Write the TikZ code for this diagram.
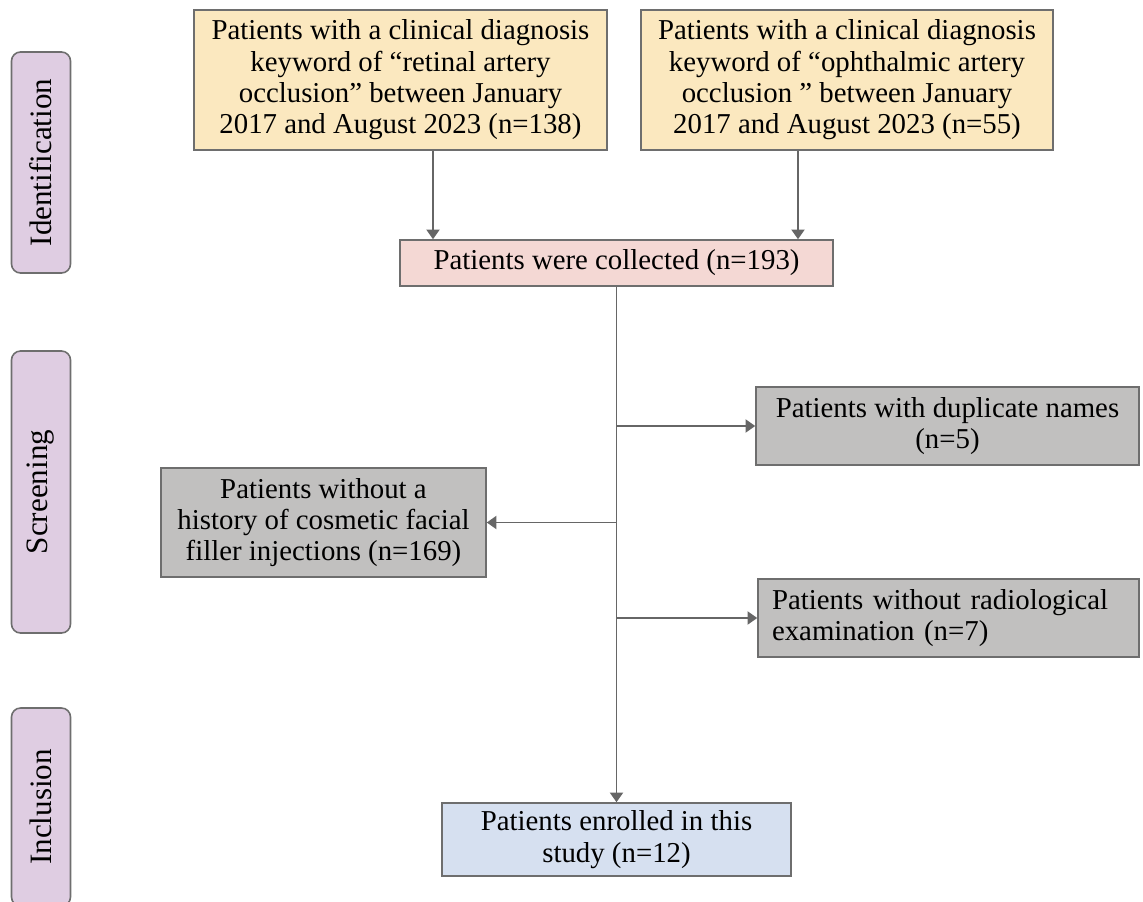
\documentclass[tikz,border=0pt]{standalone}
\usepackage{fontspec}
\setmainfont{Liberation Serif}
\usepackage{tikz}
\usetikzlibrary{
    positioning,
    arrows.meta
}
\definecolor{boxline}{HTML}{6E6E6E}
\definecolor{arrowgray}{HTML}{666666}
\definecolor{stagefill}{HTML}{DFCDE2}
\definecolor{sourcefill}{HTML}{FBE8BF}
\definecolor{poolfill}{HTML}{F4D8D4}
\definecolor{dropfill}{HTML}{C1C0BF}
\definecolor{finalfill}{HTML}{D6E0F0}
\tikzset{
    >={Triangle[length=5.5pt,width=7.5pt]},
    box/.style={
        draw=boxline,
        line width=0.9pt,
        align=center,
        inner sep=2pt,
        font=\fontsize{16.4}{17.8}\selectfont
    },
    stage/.style={
        draw=boxline,
        fill=stagefill,
        line width=0.9pt,
        rounded corners=0.18cm,
        rotate=90,
        minimum height=1.18cm,
        inner sep=0pt,
        font=\fontsize{17.7}{20}\selectfont
    },
    arr/.style={
        ->,
        draw=arrowgray,
        line width=0.9pt
    }
}

\begin{document}
\begin{tikzpicture}

    \useasboundingbox (0,0) rectangle (22.86,-18.04);

    % Etapas
    \node[stage, minimum width=4.42cm] (ident) at (0.82,-3.25)  {Identification};
    \node[stage, minimum width=5.64cm] (screen) at (0.82,-9.84) {Screening};
    \node[stage, minimum width=3.96cm] (incl) at (0.82,-16.14)  {Inclusion};

    % Fuentes
    \node[box, fill=sourcefill, minimum width=8.26cm, minimum height=2.8cm]
        (retinal) at (8.01,-1.6)
        {Patients with a clinical diagnosis\\keyword of “retinal artery\\occlusion” between January\\2017 and August 2023 (n=138)};
    \node[box, fill=sourcefill, minimum width=8.24cm, minimum height=2.8cm]
        (ophthal) at (16.94,-1.6)
        {Patients with a clinical diagnosis\\keyword of “ophthalmic artery\\occlusion ” between January\\2017 and August 2023 (n=55)};

    % Recogidos
    \node[box, fill=poolfill, minimum width=8.66cm, minimum height=0.92cm]
        (pool) at (12.33,-5.26) {Patients were collected (n=193)};

    % Excluidos
    \node[box, fill=dropfill, minimum width=7.66cm, minimum height=1.56cm]
        (dup) at (18.95,-8.52) {Patients with duplicate names\\(n=5)};
    \node[box, fill=dropfill, minimum width=6.5cm, minimum height=2.18cm]
        (filler) at (6.47,-10.45)
        {Patients without a\\history of cosmetic facial\\filler injections (n=169)};
    \node[box, fill=dropfill, align=left, text width=7.06cm, inner xsep=0.28cm, minimum height=1.56cm]
        (radio) at (18.97,-12.36)
        {Patients without radiological\\examination (n=7)};

    % Incluidos
    \node[box, fill=finalfill, minimum width=6.98cm, minimum height=1.46cm]
        (enrolled) at (12.33,-16.79) {Patients enrolled in this\\study (n=12)};

    % Flechas
    \draw[arr] ([xshift=0.65cm]retinal.south) -- ([xshift=0.65cm]retinal.south |- pool.north);
    \draw[arr] ([xshift=-0.98cm]ophthal.south) -- ([xshift=-0.98cm]ophthal.south |- pool.north);
    \draw[arr] (pool.south) -- (enrolled.north);
    \draw[arr] (dup.west -| pool.south) -- (dup.west);
    \draw[arr] (filler.east -| pool.south) -- (filler.east);
    \draw[arr] (radio.west -| pool.south) -- (radio.west);

\end{tikzpicture}
\end{document}
